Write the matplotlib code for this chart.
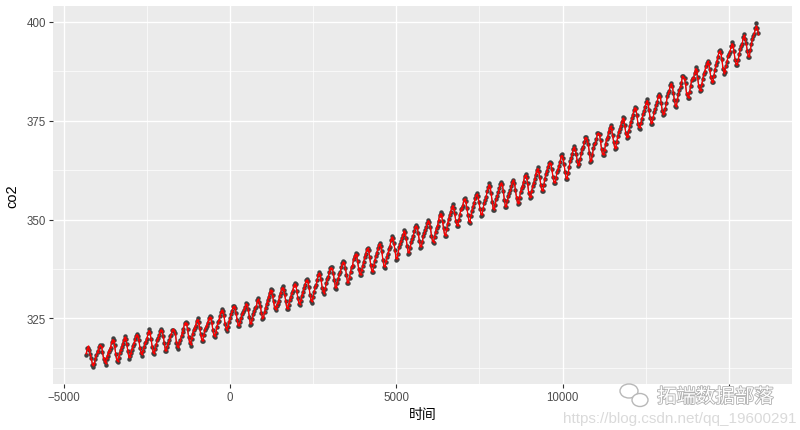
import numpy as np
import pandas as pd
import matplotlib
matplotlib.use("Agg")
import matplotlib.pyplot as plt
import matplotlib.patheffects as pe
from matplotlib.patches import Ellipse, Rectangle

# monthly co2 (ppm), Mauna Loa, from 1958-03
co2 = [
    315.71, 317.45, 317.50, 317.10, 315.86, 314.93, 313.20, 312.66, 313.33, 314.67,
    315.62, 316.38, 316.71, 317.72, 318.29, 318.15, 316.54, 314.80, 313.84, 313.26, 314.80, 315.58,
    316.43, 316.97, 317.58, 319.02, 320.03, 319.59, 318.18, 315.91, 314.16, 313.83, 315.00, 316.19,
    316.93, 317.70, 318.54, 319.48, 320.58, 319.77, 318.57, 316.79, 314.80, 315.38, 316.10, 317.01,
    317.94, 318.56, 319.68, 320.63, 321.01, 320.55, 319.58, 317.40, 316.26, 315.42, 316.69, 317.69,
    318.74, 319.08, 319.86, 321.39, 322.25, 321.47, 319.74, 317.77, 316.21, 315.99, 317.12, 318.31,
    319.57, 320.07, 320.73, 321.77, 322.25, 321.89, 320.44, 318.70, 316.70, 316.79, 317.79, 318.71,
    319.44, 320.44, 320.89, 322.13, 322.16, 321.87, 321.39, 318.81, 317.81, 317.30, 318.87, 319.42,
    320.62, 321.59, 322.39, 323.87, 324.01, 323.75, 322.39, 320.37, 318.64, 318.10, 319.79, 321.08,
    322.07, 322.50, 323.04, 324.42, 325.00, 324.09, 322.55, 320.92, 319.31, 319.31, 320.72, 321.96,
    322.57, 323.15, 323.89, 325.02, 325.57, 325.36, 324.14, 322.03, 320.41, 320.25, 321.31, 322.84,
    324.00, 324.42, 325.64, 326.66, 327.34, 326.76, 325.88, 323.67, 322.38, 321.78, 322.85, 324.11,
    325.03, 325.99, 326.87, 328.13, 328.07, 327.66, 326.35, 324.69, 323.10, 323.16, 323.98, 325.13,
    326.17, 326.68, 327.18, 327.78, 328.92, 328.57, 327.34, 325.46, 323.36, 323.57, 324.80, 326.01,
    326.77, 327.63, 327.75, 329.72, 330.07, 329.09, 328.05, 326.32, 324.93, 325.06, 326.50, 327.55,
    328.54, 329.56, 330.30, 331.50, 332.48, 332.07, 330.87, 329.31, 327.51, 327.18, 328.16, 328.64,
    329.35, 330.71, 331.48, 332.65, 333.09, 332.25, 331.18, 329.40, 327.44, 327.37, 328.46, 329.58,
    330.40, 331.40, 332.04, 333.31, 333.96, 333.59, 331.91, 330.06, 328.56, 328.34, 329.49, 330.76,
    331.75, 332.56, 333.50, 334.58, 334.87, 334.34, 333.05, 330.94, 329.30, 328.94, 330.31, 331.68,
    332.93, 333.42, 334.70, 336.07, 336.74, 336.27, 334.93, 332.75, 331.58, 331.16, 332.40, 333.85,
    334.97, 335.39, 336.64, 337.76, 338.01, 337.89, 336.54, 334.68, 332.76, 332.54, 333.92, 334.95,
    336.23, 336.76, 337.96, 338.89, 339.47, 339.29, 337.73, 336.09, 333.91, 333.86, 335.29, 336.73,
    338.01, 338.36, 340.08, 340.77, 341.46, 341.17, 339.56, 337.60, 335.88, 336.01, 337.10, 338.21,
    339.23, 340.47, 341.38, 342.51, 342.91, 342.25, 340.49, 338.43, 336.69, 336.85, 338.36, 339.61,
    340.75, 341.61, 342.70, 343.56, 344.13, 343.35, 342.06, 339.82, 337.97, 337.86, 339.26, 340.49,
    341.38, 342.52, 343.10, 344.94, 345.75, 345.32, 343.99, 342.39, 339.86, 339.99, 341.16, 342.99,
    343.82, 344.63, 345.38, 346.11, 347.41, 346.74, 345.36, 343.19, 341.37, 341.58, 342.87, 344.20,
    345.18, 345.90, 347.20, 348.22, 348.70, 348.02, 346.57, 344.61, 342.92, 343.04, 344.29, 345.91,
    346.63, 347.38, 348.23, 349.11, 349.95, 349.48, 348.06, 345.88, 344.31, 344.10, 345.46, 346.87,
    347.83, 348.39, 349.74, 351.25, 351.86, 351.28, 349.66, 347.76, 345.83, 345.86, 347.52, 348.89,
    350.21, 351.19, 351.90, 353.19, 353.86, 353.04, 351.68, 349.68, 348.37, 348.33, 349.88, 351.25,
    352.60, 352.92, 353.53, 355.26, 355.51, 354.68, 352.99, 351.21, 349.34, 349.17, 350.95, 352.22,
    353.26, 354.20, 355.38, 356.21, 356.71, 355.97, 354.44, 352.66, 350.97, 351.06, 352.74, 354.08,
    354.83, 355.81, 357.12, 358.28, 359.13, 358.48, 356.60, 354.43, 352.44, 352.43, 353.79, 355.19,
    356.04, 356.92, 357.92, 358.88, 359.45, 358.96, 357.27, 354.95, 353.11, 353.27, 354.78, 355.94,
    356.81, 357.38, 358.50, 359.55, 360.12, 359.37, 357.50, 355.53, 353.94, 354.15, 355.42, 357.06,
    358.00, 358.60, 359.59, 361.02, 361.45, 360.89, 359.24, 356.84, 355.46, 355.68, 357.17, 358.47,
    359.29, 360.18, 361.37, 362.51, 363.19, 362.38, 360.81, 358.79, 357.12, 357.28, 358.66, 360.24,
    361.53, 362.39, 363.22, 364.22, 364.58, 364.37, 362.76, 360.74, 359.23, 359.13, 360.39, 361.96,
    362.60, 363.59, 364.46, 366.21, 366.52, 365.58, 364.05, 362.04, 360.37, 360.30, 361.68, 363.20,
    364.75, 365.56, 366.56, 367.97, 368.60, 367.91, 366.67, 364.79, 363.62, 363.97, 365.29, 366.77,
    367.96, 368.38, 369.56, 370.94, 370.84, 370.25, 369.17, 366.82, 364.55, 364.69, 366.33, 367.98,
    369.07, 369.33, 370.40, 371.89, 371.91, 371.76, 370.02, 367.77, 366.24, 366.22, 367.47, 369.07,
    370.34, 370.80, 372.09, 373.21, 373.87, 373.16, 371.28, 369.62, 367.93, 368.07, 369.50, 371.03,
    372.24, 372.90, 373.61, 374.74, 375.84, 375.58, 373.87, 371.80, 370.57, 370.94, 372.46, 373.71,
    374.81, 375.65, 376.46, 377.74, 378.52, 378.19, 376.54, 374.18, 373.05, 373.01, 374.36, 375.55,
    376.75, 377.51, 378.48, 379.66, 380.39, 379.50, 377.76, 375.70, 374.25, 374.29, 375.75, 377.11,
    377.99, 379.10, 379.77, 381.18, 381.82, 381.38, 379.61, 377.48, 376.45, 376.66, 377.99, 379.43,
    381.21, 381.90, 382.58, 384.03, 384.67, 383.86, 382.05, 380.21, 378.71, 378.55, 380.36, 381.70,
    382.90, 383.66, 384.67, 386.44, 386.31, 385.70, 384.48, 381.80, 380.85, 380.81, 382.18, 383.68,
    385.35, 385.83, 385.67, 387.20, 388.50, 387.85, 386.01, 383.81, 382.50, 382.67, 384.13, 385.56,
    386.91, 387.40, 388.78, 389.50, 390.24, 389.61, 388.00, 386.00, 384.68, 384.82, 386.27, 387.87,
    389.02, 389.96, 391.25, 392.53, 393.01, 392.31, 390.54, 388.22, 386.91, 387.42, 388.87, 389.99,
    391.39, 391.93, 392.51, 393.83, 394.83, 394.29, 392.53, 390.36, 389.11, 389.00, 390.26, 391.82,
    393.12, 393.85, 394.36, 396.29, 396.94, 395.77, 394.68, 392.63, 391.16, 391.02, 392.88, 394.39,
    395.78, 396.47, 397.07, 398.35, 399.76, 398.58, 397.20,
]

# fitted values (red)
fitted = [
    316.2, 317.3, 317.9, 317.0, 315.8, 314.6, 313.5, 313.1, 313.8, 314.9,
    315.8, 316.5, 317.0, 317.9, 318.2, 317.8, 316.5, 314.9, 314.1, 313.7, 314.9, 315.8,
    316.6, 317.1, 317.8, 318.9, 319.6, 319.3, 318.0, 316.0, 314.5, 314.3, 315.2, 316.3,
    317.1, 317.8, 318.6, 319.5, 320.2, 319.7, 318.4, 316.7, 315.2, 315.4, 316.3, 317.2,
    318.0, 318.7, 319.6, 320.5, 320.9, 320.4, 319.4, 317.5, 316.3, 315.9, 316.8, 317.8,
    318.8, 319.3, 320.0, 321.2, 321.9, 321.3, 319.8, 317.9, 316.5, 316.3, 317.3, 318.4,
    319.5, 320.1, 320.8, 321.7, 322.1, 321.7, 320.4, 318.7, 317.1, 317.0, 317.9, 318.8,
    319.6, 320.4, 321.0, 322.0, 322.2, 321.8, 321.0, 319.0, 318.0, 317.7, 318.9, 319.6,
    320.7, 321.6, 322.4, 323.6, 323.9, 323.5, 322.3, 320.4, 318.9, 318.5, 319.9, 321.1,
    322.0, 322.6, 323.2, 324.3, 324.7, 323.9, 322.5, 320.9, 319.6, 319.6, 320.8, 322.0,
    322.7, 323.3, 324.0, 324.9, 325.3, 325.1, 323.9, 322.0, 320.7, 320.6, 321.5, 322.9,
    323.9, 324.6, 325.6, 326.5, 327.0, 326.6, 325.6, 323.7, 322.5, 322.1, 323.0, 324.2,
    325.1, 326.0, 326.9, 327.9, 328.0, 327.5, 326.2, 324.6, 323.4, 323.4, 324.1, 325.2,
    326.2, 326.7, 327.3, 327.9, 328.7, 328.3, 327.1, 325.4, 323.8, 323.8, 324.9, 326.0,
    326.8, 327.6, 328.0, 329.5, 329.8, 329.0, 327.9, 326.3, 325.1, 325.3, 326.5, 327.6,
    328.5, 329.5, 330.3, 331.3, 332.1, 331.8, 330.6, 329.1, 327.7, 327.4, 328.2, 328.8,
    329.5, 330.7, 331.5, 332.5, 332.8, 332.1, 331.0, 329.3, 327.7, 327.6, 328.6, 329.7,
    330.5, 331.4, 332.1, 333.2, 333.7, 333.3, 331.8, 330.0, 328.8, 328.6, 329.6, 330.8,
    331.7, 332.6, 333.5, 334.4, 334.7, 334.1, 332.8, 331.0, 329.6, 329.3, 330.5, 331.8,
    332.9, 333.5, 334.7, 335.9, 336.4, 335.9, 334.6, 332.8, 331.8, 331.5, 332.6, 333.9,
    334.9, 335.5, 336.6, 337.6, 337.8, 337.6, 336.3, 334.6, 333.0, 332.9, 334.1, 335.1,
    336.2, 336.8, 337.9, 338.8, 339.2, 339.0, 337.6, 335.9, 334.2, 334.2, 335.4, 336.8,
    337.9, 338.5, 339.9, 340.7, 341.2, 340.9, 339.4, 337.6, 336.2, 336.3, 337.3, 338.3,
    339.3, 340.4, 341.3, 342.3, 342.7, 342.0, 340.4, 338.5, 337.0, 337.1, 338.5, 339.7,
    340.7, 341.6, 342.6, 343.5, 343.9, 343.1, 341.8, 339.8, 338.3, 338.2, 339.4, 340.6,
    341.5, 342.5, 343.2, 344.8, 345.5, 345.0, 343.8, 342.1, 340.2, 340.3, 341.4, 343.0,
    343.8, 344.6, 345.4, 346.2, 347.1, 346.5, 345.1, 343.2, 341.7, 341.8, 343.0, 344.3,
    345.2, 345.9, 347.1, 348.1, 348.4, 347.8, 346.4, 344.6, 343.2, 343.3, 344.5, 345.9,
    346.7, 347.4, 348.2, 349.1, 349.7, 349.2, 347.8, 345.9, 344.6, 344.4, 345.7, 346.9,
    347.8, 348.5, 349.8, 351.0, 351.5, 350.9, 349.4, 347.6, 346.1, 346.2, 347.7, 349.0,
    350.2, 351.1, 351.9, 353.0, 353.5, 352.7, 351.4, 349.6, 348.6, 348.6, 350.0, 351.3,
    352.5, 352.9, 353.6, 355.0, 355.2, 354.4, 352.8, 351.1, 349.6, 349.5, 351.1, 352.3,
    353.3, 354.2, 355.3, 356.1, 356.4, 355.7, 354.2, 352.6, 351.3, 351.3, 352.9, 354.1,
    354.9, 355.8, 357.1, 358.1, 358.8, 358.2, 356.4, 354.4, 352.8, 352.7, 353.9, 355.2,
    356.0, 356.9, 357.9, 358.8, 359.2, 358.7, 357.1, 355.0, 353.4, 353.5, 354.9, 356.0,
    356.8, 357.4, 358.5, 359.4, 359.9, 359.1, 357.4, 355.6, 354.2, 354.4, 355.6, 357.1,
    357.9, 358.6, 359.6, 360.9, 361.2, 360.6, 359.1, 356.9, 355.7, 355.9, 357.3, 358.5,
    359.3, 360.2, 361.4, 362.4, 362.9, 362.1, 360.6, 358.8, 357.4, 357.5, 358.8, 360.3,
    361.5, 362.4, 363.2, 364.1, 364.4, 364.1, 362.6, 360.8, 359.5, 359.4, 360.6, 362.0,
    362.7, 363.6, 364.5, 366.0, 366.2, 365.4, 363.9, 362.0, 360.6, 360.6, 361.8, 363.3,
    364.7, 365.5, 366.5, 367.8, 368.3, 367.7, 366.5, 364.8, 363.8, 364.1, 365.4, 366.8,
    367.9, 368.4, 369.6, 370.7, 370.7, 370.0, 368.9, 366.8, 364.9, 365.0, 366.5, 368.0,
    369.0, 369.4, 370.4, 371.7, 371.8, 371.5, 369.8, 367.8, 366.5, 366.5, 367.7, 369.1,
    370.3, 370.9, 372.1, 373.1, 373.6, 372.9, 371.1, 369.6, 368.2, 368.3, 369.7, 371.0,
    372.2, 372.9, 373.7, 374.7, 375.6, 375.3, 373.7, 371.8, 370.8, 371.2, 372.6, 373.8,
    374.8, 375.6, 376.5, 377.6, 378.3, 377.9, 376.3, 374.3, 373.3, 373.3, 374.5, 375.6,
    376.7, 377.5, 378.5, 379.5, 380.1, 379.3, 377.6, 375.8, 374.5, 374.6, 375.9, 377.2,
    378.0, 379.0, 379.8, 381.1, 381.6, 381.1, 379.4, 377.5, 376.7, 376.9, 378.1, 379.5,
    381.1, 381.9, 382.6, 383.9, 384.4, 383.6, 381.9, 380.2, 378.9, 378.8, 380.5, 381.8,
    382.9, 383.7, 384.7, 386.2, 386.1, 385.5, 384.2, 381.9, 381.1, 381.1, 382.3, 383.7,
    385.2, 385.8, 385.9, 387.2, 388.2, 387.6, 385.8, 383.8, 382.7, 382.9, 384.2, 385.6,
    386.9, 387.5, 388.7, 389.4, 390.0, 389.4, 387.8, 386.0, 384.9, 385.1, 386.4, 387.9,
    389.0, 390.0, 391.2, 392.3, 392.7, 392.0, 390.3, 388.3, 387.2, 387.6, 388.9, 390.0,
    391.3, 391.9, 392.6, 393.7, 394.5, 394.0, 392.3, 390.4, 389.3, 389.3, 390.4, 391.8,
    393.1, 393.8, 394.5, 396.0, 396.6, 395.6, 394.4, 392.6, 391.4, 391.3, 393.0, 394.4,
    395.7, 396.4, 397.1, 398.2, 398.9, 398.3, 397.0,
]

start_month = "1958-03-01"
x_ticks = [-5000, 0, 5000, 10000, 15000]
x_minor = [-2500, 2500, 7500, 12500]
y_ticks = [325, 350, 375, 400]
y_minor = [312.5, 337.5, 362.5, 387.5]

dates = pd.date_range(start_month, periods=len(co2), freq="MS")
days = (dates - pd.Timestamp("1970-01-01")).days.values

plt.rcParams['font.family'] = ['Liberation Sans', 'Noto Sans CJK SC', 'DejaVu Sans']

fig = plt.figure(figsize=(8.0, 4.31), dpi=100)
ax = fig.add_axes([52.7 / 800, (431 - 385.3) / 431, (792 - 52.7) / 800, (385.3 - 6.7) / 431])
ax.set_facecolor('#EBEBEB')
for s in ax.spines.values():
    s.set_visible(False)

# ggplot-like expansion
xr = days.max() - days.min()
ax.set_xlim(days.min() - 0.05 * xr, days.max() + 0.05 * xr)
yr = max(co2) - min(co2)
ax.set_ylim(min(co2) - 0.05 * yr, max(co2) + 0.05 * yr)

ax.set_xticks(x_ticks)
ax.set_xticks(x_minor, minor=True)
ax.set_yticks(y_ticks)
ax.set_yticks(y_minor, minor=True)
ax.grid(which='major', color='white', linewidth=1.0)
ax.grid(which='minor', color='white', linewidth=0.5)
ax.set_axisbelow(True)
ax.tick_params(which='major', length=2.7, width=0.8, color='#333333', labelsize=8.3,
               labelcolor='#4D4D4D', pad=2)
ax.tick_params(which='minor', length=0)

ax.plot(days, co2, color='#3A3A3A', linewidth=0.7, zorder=2)
ax.plot(days, co2, 'o', color='#404040', markersize=3.2, markeredgewidth=0, zorder=3)
ax.plot(days, fitted, color='red', linewidth=0.9, zorder=4)
ax.plot(days, fitted, 'o', color='red', markersize=1.5, markeredgewidth=0, zorder=5)

ax.set_xlabel('时间', fontsize=10, color='black', labelpad=3,
              family=['Noto Sans CJK SC', 'DejaVu Sans'])
ax.set_ylabel('co2', fontsize=10.5, color='black', labelpad=5)

# watermark (white backing hides the last tick label, as in the source image)
fig.patches.append(Rectangle((612 / 800, 0), 188 / 800, (431 - 387) / 431, transform=fig.transFigure,
                             facecolor='white', edgecolor='none', zorder=1))
wm = [pe.withStroke(linewidth=1.2, foreground='#B0B0B0')]
fig.text(657 / 800, 1 - 398 / 431, '拓端数据部落', fontsize=14, color='white', va='center',
         family=['Noto Sans CJK SC', 'DejaVu Sans'], path_effects=wm, zorder=2)
fig.text(563 / 800, 1 - 419 / 431, 'https://blog.csdn.net/qq_19600291', fontsize=11,
         color='#DADADA', va='center', zorder=2)
fig.patches.append(Ellipse((629 / 800, 1 - 392 / 431), 18 / 800, 14 / 431, transform=fig.transFigure,
                           facecolor='white', edgecolor='#B8B8B8', linewidth=1.0, zorder=2))
fig.patches.append(Ellipse((640 / 800, 1 - 401 / 431), 16 / 800, 13 / 431, transform=fig.transFigure,
                           facecolor='white', edgecolor='#B8B8B8', linewidth=1.0, zorder=2))

fig.savefig('out.png', dpi=100)
